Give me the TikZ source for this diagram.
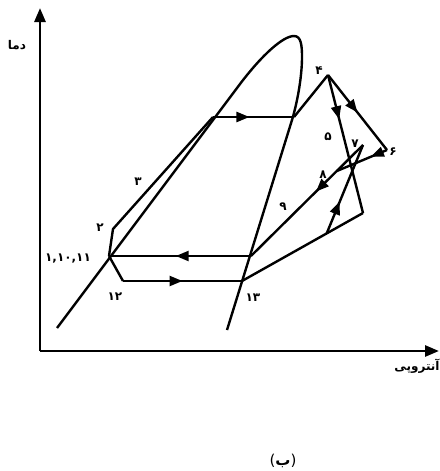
\documentclass[tikz,border=0pt]{standalone}
\usepackage{fontspec}
\usetikzlibrary{arrows.meta,decorations.markings,calc}
\newfontfamily\arabicfont[Script=Arabic]{DejaVu Sans}
\newfontfamily\plainsans{DejaVu Sans}
\TeXXeTstate=1
\begin{document}
\begin{tikzpicture}[x=1pt,y=-1pt,
  curve/.style={line width=2.4pt, line join=miter},
  axisline/.style={line width=2.7pt, -{Triangle[length=14pt,width=11pt]}},
  midarr/.style={decoration={markings, mark=at position #1 with {\arrow{Triangle[length=13pt,width=10pt]}}}, postaction={decorate}},
  lbl/.style={font=\arabicfont\bfseries\fontsize{12}{14}\selectfont, inner sep=0pt}
]
\useasboundingbox (0,0) rectangle (439,471);
% axes
\coordinate (o) at (40,351);
\coordinate (ytip) at (40,8);
\coordinate (xtip) at (439,351);
\draw[axisline] (o) -- (ytip);
\draw[axisline] (o) -- (xtip);
% points
\coordinate (p1) at (109,256);
\coordinate (p2) at (113,229);
\coordinate (p3) at (213,117);
\coordinate (q3) at (294,117);
\coordinate (p4) at (328,75);
\coordinate (p6) at (387,150);
\coordinate (p7) at (363,145);
\coordinate (c) at (363,213);
\coordinate (p12) at (123,281);
\coordinate (p13) at (242,281);
\coordinate (r1) at (251,256);
% dome
\draw[curve] (57,328) -- (240,84) .. controls (262,55) and (283,36) .. (294,36)
  .. controls (301,36) and (302,45) .. (302,57)
  .. controls (302,75) and (298,100) .. (292,120) -- (227,330);
% cycle lines
\draw[curve] (p1) -- (p2) -- (p3);
\draw[curve, midarr=0.45] (p3) -- (q3);
\draw[curve] (q3) -- (p4);
\draw[curve, midarr=0.32] (p4) -- (c);
\draw[curve, midarr=0.5] (p4) -- (p6);
\coordinate (m) at ($(p7)!0.235!(r1)$);
\draw[curve, midarr=0.32] (p6) -- (m);
\draw[curve, midarr=0.42] (p7) -- (r1);
\draw[curve, midarr=0.53] (r1) -- (p1);
\draw[curve] (p1) -- (p12);
\draw[curve, midarr=0.5] (p12) -- (p13);
\draw[curve] (p13) -- (c);
\coordinate (j) at ($(c)!0.3!(p13)$);
\draw[curve, midarr=0.36] (j) -- (p7);
% labels
\node[lbl] (ty) at (17,45) {\beginR دما\endR};
\node[lbl] (tx) at (417,366) {\beginR آنتروپی\endR};
\node[inner sep=0pt, font=\fontsize{15}{17}\selectfont] (cap) at (283,461) {{\plainsans (}{\arabicfont\bfseries ب}{\plainsans )}};
\node[lbl] (l3) at (138,182) {۳};
\node[lbl] (l2) at (100,228) {۲};
\node[lbl] (l1) at (68,259) {۱,۱۰,۱۱};
\node[lbl] (l12) at (115,297) {۱۲};
\node[lbl] (l13) at (253,298) {۱۳};
\node[lbl] (l4) at (319,71) {۴};
\node[lbl] (l5) at (328,137) {۵};
\node[lbl] (l6) at (393,152) {۶};
\node[lbl] (l7) at (355,144) {۷};
\node[lbl] (l8) at (323,175) {۸};
\node[lbl] (l9) at (283,207) {۹};
\end{tikzpicture}
\end{document}
